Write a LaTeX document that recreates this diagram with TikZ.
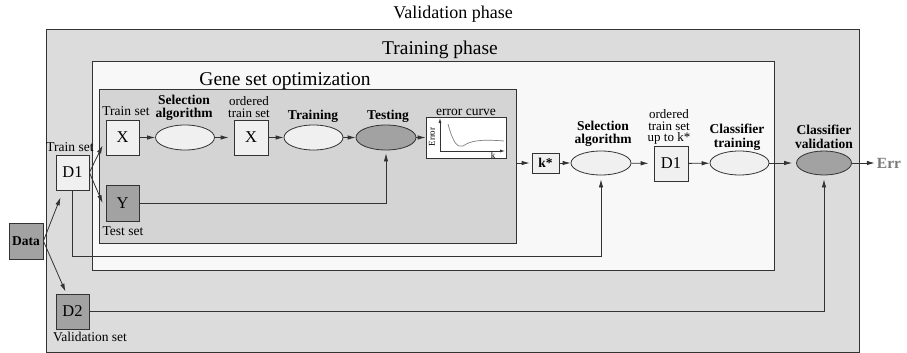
\documentclass[tikz,border=0pt]{standalone}
\usepackage{fontspec}
\setmainfont{Liberation Serif}
\usetikzlibrary{arrows.meta,shapes.geometric}
\definecolor{valgray}{HTML}{DCDCDC}
\definecolor{traingray}{HTML}{F8F8F8}
\definecolor{genegray}{HTML}{D4D4D4}
\definecolor{setdark}{HTML}{A2A2A2}
\definecolor{setlight}{HTML}{F0F0F0}
\definecolor{linegray}{HTML}{333333}
\definecolor{errgray}{HTML}{7A7A7A}

\begin{document}
\begin{tikzpicture}[
  x=1pt, y=-1pt,
  >={Latex[length=8pt,width=4.5pt]},
  phase/.style={draw=linegray, line width=0.9pt, inner sep=0pt},
  phasetitle/.style={font=\fontsize{19.5}{21}\selectfont, inner sep=0pt, anchor=base},
  setbox/.style={draw=linegray, line width=0.8pt, fill=setlight, minimum width=33pt, minimum height=35pt, inner sep=0pt, font=\fontsize{16.5}{18}\selectfont},
  darkbox/.style={setbox, fill=setdark},
  stepell/.style={ellipse, draw=linegray, line width=0.8pt, fill=setlight, minimum width=59pt, minimum height=25pt, inner sep=0pt},
  darkell/.style={stepell, fill=setdark},
  lab/.style={align=center, font=\fontsize{13.5}{12.5}\selectfont, inner sep=0pt},
  boldlab/.style={align=center, font=\fontsize{13.5}{13.5}\selectfont\bfseries, inner sep=0pt},
  flow/.style={->, draw=linegray, line width=0.8pt}
]
  \useasboundingbox (0,0) rectangle (907,353);

  % nested phases
  \node[phase, fill=valgray, minimum width=813pt, minimum height=323pt] (valbox) at (452.5,190.5) {};
  \node[phasetitle, font=\fontsize{18}{20}\selectfont] (valtitle) at (453,19) {Validation phase};
  \node[phase, fill=traingray, minimum width=682pt, minimum height=209pt] (trainbox) at (433,165.5) {};
  \node[phasetitle] (traintitle) at (440,55) {Training phase};
  \node[phase, fill=genegray, minimum width=417pt, minimum height=154pt] (genebox) at (307.5,166) {};
  \node[phasetitle] (genetitle) at (285,85) {Gene set optimization};

  % data sets
  \node[darkbox, minimum width=34pt, minimum height=36pt, font=\fontsize{13.5}{14}\selectfont\bfseries] (data) at (26,241) {Data};
  \node[setbox] (d1) at (72.5,172.5) {D1};
  \node[darkbox] (d2) at (72.5,311.5) {D2};
  \node[lab, anchor=base] (d1lab) at (70,151) {Train set};
  \node[lab, anchor=base] (d2lab) at (90,341) {Validation set};

  % gene set optimization
  \node[setbox] (x1) at (122.5,137.5) {X};
  \node[stepell] (sel1) at (185,137.5) {};
  \node[setbox, minimum width=34pt] (x2) at (251,137.5) {X};
  \node[stepell] (train) at (313.5,137.5) {};
  \node[darkell, minimum width=60pt] (test) at (386,137.5) {};
  \node[darkbox, minimum height=36pt] (y) at (122.5,203) {Y};
  \node[draw=linegray, line width=0.8pt, fill=white, minimum width=80pt, minimum height=41pt, inner sep=0pt] (errbox) at (466,137.5) {};

  \node[lab, anchor=base] (x1lab) at (126,115) {Train set};
  \node[boldlab] (sel1lab) at (184,108) {Selection\\algorithm};
  \node[lab, font=\fontsize{13}{12.5}\selectfont] (x2lab) at (249,107) {ordered\\train set};
  \node[boldlab, anchor=base] (trainlab) at (313,119) {Training};
  \node[boldlab, anchor=base] (testlab) at (388,119) {Testing};
  \node[lab, anchor=base] (errboxlab) at (466,115) {error curve};
  \node[lab, anchor=base] (ylab) at (123,235) {Test set};

  % error curve
  \draw[->, >={Latex[length=5pt,width=3pt]}, linegray, line width=0.7pt] (440,151) -- (440,118);
  \draw[->, >={Latex[length=5pt,width=3pt]}, linegray, line width=0.7pt] (440,151) -- (505,151);
  \draw[gray, line width=0.7pt] (448,124) .. controls (454,146) and (458,147) .. (463,146)
    .. controls (470,141) and (480,139) .. (504,141);
  \node[rotate=90, font=\fontsize{9}{10}\selectfont, inner sep=0pt] (errorlab) at (432,137) {Error};
  \node[font=\fontsize{9}{10}\selectfont, inner sep=0pt] (klab) at (493,155) {k};

  % final classifier
  \node[setbox, minimum width=27pt, minimum height=20pt, font=\fontsize{13.5}{14}\selectfont\bfseries] (kstar) at (545.5,163) {k*};
  \node[stepell, minimum width=60pt, minimum height=24pt] (sel2) at (601,163) {};
  \node[setbox, minimum width=34pt] (d1b) at (671,163.5) {D1};
  \node[stepell, minimum height=24pt] (ctrain) at (739.5,163) {};
  \node[darkell, minimum width=55pt, minimum height=24pt] (cval) at (824,163) {};
  \node[font=\fontsize{15.5}{17}\selectfont\bfseries, text=errgray, inner sep=2pt] (err) at (889,163) {Err};

  \node[boldlab] (sel2lab) at (603,134) {Selection\\algorithm};
  \node[lab, font=\fontsize{13}{11.5}\selectfont] (d1blab) at (669,127) {ordered\\train set\\up to k*};
  \node[boldlab] (ctrainlab) at (737,137) {Classifier\\training};
  \node[boldlab] (cvallab) at (824,137) {Classifier\\validation};

  % connectors
  \draw[flow] (data.east) -- ([xshift=-12pt,yshift=-7pt]d1.south);
  \draw[flow] (data.east) -- ([xshift=-7pt,yshift=2pt]d2.north);
  \draw[flow] (d1.east) -- ([xshift=-3pt,yshift=-8pt]x1.west);
  \draw[flow] (d1.east) -- ([xshift=-3pt]y.west);
  \draw[flow] (x1) -- (sel1);
  \draw[flow, shorten >=5pt] (sel1) -- (x2);
  \draw[flow] (x2) -- (train);
  \draw[flow] (train) -- (test);
  \draw[flow] (test) -- (errbox);
  \draw[flow, shorten >=3pt] (y.east) -| (test.south);
  \draw[flow, shorten >=2pt] (genebox.east |- kstar) -- (kstar);
  \draw[flow] (kstar) -- (sel2);
  \draw[flow, shorten >=5pt] (sel2) -- (d1b);
  \draw[flow] (d1b) -- (ctrain);
  \draw[flow, shorten >=4pt] (ctrain) -- (cval);
  \draw[flow] (cval) -- (err);
  \draw[flow, shorten >=4pt] (d1.south) -- ++(0,66) -| (sel2.south);
  \draw[flow, shorten >=4pt] (d2.east) -| (cval.south);
\end{tikzpicture}
\end{document}
